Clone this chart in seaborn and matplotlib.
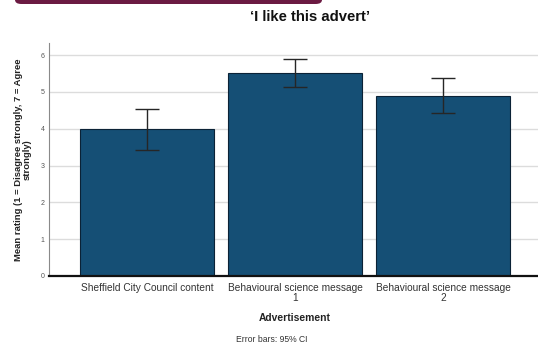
import matplotlib
matplotlib.use("Agg")
import matplotlib.pyplot as plt
from matplotlib.patches import FancyBboxPatch
import seaborn as sns
import pandas as pd

categories = ["Sheffield City Council content", "Behavioural science message\n1", "Behavioural science message\n2"]
means = [4.00, 5.51, 4.89]
ci_low = [3.43, 5.14, 4.43]
ci_high = [4.54, 5.89, 5.38]
yticks = [0, 1, 2, 3, 4, 5, 6]

sns.set_theme(style="white")
plt.rcParams['font.family'] = ['Liberation Sans', 'DejaVu Sans']

fig = plt.figure(figsize=(5.38, 3.45), dpi=100)
ax = fig.add_axes([49/538, 1-276/345, 1-49/538, (276-43)/345])

df = pd.DataFrame({"Advertisement": categories, "Mean": means})
bar_color = "#154f75"
sns.barplot(data=df, x="Advertisement", y="Mean", color=bar_color, saturation=1,
            width=0.905, edgecolor="#0b2236", linewidth=0.8, errorbar=None, ax=ax, zorder=2)

xs = list(range(len(categories)))
lower = [m - l for m, l in zip(means, ci_low)]
upper = [h - m for m, h in zip(means, ci_high)]
ax.errorbar(xs, means, yerr=[lower, upper], fmt="none", ecolor="#262626",
            elinewidth=1.0, capsize=8.6, capthick=1.0, zorder=3)

ax.set_ylim(0, 6.33)
ax.set_xlim(-0.662, 2.64)
ax.set_yticks(yticks)
ax.set_yticklabels([str(t) for t in yticks], fontsize=5, color="#555555")
ax.yaxis.grid(True, color="#dcdcdc", linewidth=1.0, zorder=0)
ax.set_axisbelow(True)
ax.tick_params(axis="y", length=0, pad=3)
ax.tick_params(axis="x", length=0, pad=5, labelsize=7.3, labelcolor="#333333")
for lab in ax.get_xticklabels():
    lab.set_linespacing(1.0)

for s in ["top", "right"]:
    ax.spines[s].set_visible(False)
ax.spines["left"].set_color("#8a8a8a")
ax.spines["left"].set_linewidth(0.8)
ax.spines["bottom"].set_color("#111111")
ax.spines["bottom"].set_linewidth(1.6)

ax.set_xlabel("")
ax.set_ylabel("Mean rating (1 = Disagree strongly, 7 = Agree\nstrongly)",
              fontsize=6.8, fontweight="bold", color="#222222", linespacing=0.95)
ax.yaxis.set_label_coords(-0.036, 0.5)

fig.text(310/538, 1-17/345, "\u2018I like this advert\u2019", ha="center", va="center",
         fontsize=10.7, fontweight="bold", color="#111111")
fig.text(295/538, 1-318/345, "Advertisement", ha="center", va="center",
         fontsize=7.4, fontweight="bold", color="#222222")
fig.text(272/538, 1-339/345, "Error bars: 95% CI", ha="center", va="center",
         fontsize=6.2, color="#333333")

banner = FancyBboxPatch((15/538, 1-4/345), (322-15)/538, 20/345,
                        boxstyle="round,pad=0,rounding_size=0.012",
                        transform=fig.transFigure, facecolor="#6b1a42",
                        edgecolor="none", clip_on=False)
fig.patches.append(banner)

fig.savefig("out.png", dpi=100)
